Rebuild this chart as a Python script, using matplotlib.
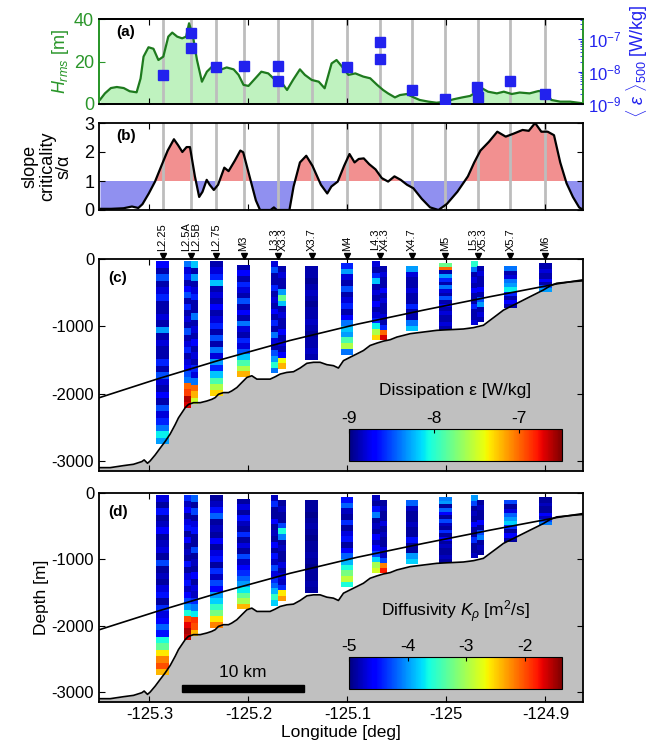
import numpy as np
import matplotlib
matplotlib.use("Agg")
import matplotlib.pyplot as plt
from matplotlib import patches, transforms

plt.rcParams['font.family'] = ['Liberation Sans', 'DejaVu Sans']
plt.rcParams['mathtext.fontset'] = 'custom'
plt.rcParams['mathtext.rm'] = 'Liberation Sans'
plt.rcParams['mathtext.it'] = 'Liberation Sans:italic'
plt.rcParams['axes.linewidth'] = 1.3
plt.rcParams['axes.unicode_minus'] = False

# ---------------- data ----------------
# (a) rms topographic height along the section
hrms_lon = [-125.350, -125.345, -125.339, -125.333, -125.326, -125.320, -125.313, -125.309,
            -125.306, -125.301, -125.296, -125.291, -125.286, -125.281, -125.277, -125.272,
            -125.267, -125.263, -125.260, -125.256, -125.252, -125.247, -125.242, -125.235,
            -125.229, -125.222, -125.215, -125.210, -125.205, -125.200, -125.193, -125.187,
            -125.180, -125.173, -125.166, -125.161, -125.155, -125.148, -125.143, -125.136,
            -125.129, -125.123, -125.116, -125.111, -125.106, -125.099, -125.092, -125.084,
            -125.077, -125.070, -125.064, -125.059, -125.052, -125.047, -125.040, -125.033,
            -125.027, -125.018, -125.010, -125.001, -124.993, -124.984, -124.976, -124.964,
            -124.958, -124.949, -124.942, -124.934, -124.926, -124.916, -124.907, -124.900,
            -124.894, -124.885, -124.875, -124.862]
hrms = [2, 5, 7.5, 8, 7.5, 6, 5.5, 12,
        22.3, 26.7, 26, 20.7, 22.3, 31.7, 33.6, 31.7,
        30.9, 31.7, 38, 31.7, 20.7, 10.5, 15.2, 18.4,
        16, 17.2, 16.3, 13.7, 9, 8.5, 12.1, 15.2,
        14.4, 11.3, 9.8, 6.6, 11.3, 16.3, 13.7, 11.3,
        10.5, 7.4, 19.1, 20.7, 17.9, 13.7, 14.4, 12.9,
        12.1, 9, 6.6, 5, 3.1, 4.2, 4.7, 3.1,
        1.9, 1.1, 0.6, 1.1, 2.2, 3.1, 3.8, 7.4,
        5.8, 5, 5.8, 4.7, 5.4, 5, 6.1, 5.8,
        1.9, 1.1, 1.1, 0.3]

# (a) depth-mean dissipation below 500 m, per station group
eps500_lon = [-125.2868, -125.2582, -125.2582, -125.2323, -125.2050, -125.1697, -125.1697,
              -125.1003, -125.0675, -125.0675, -125.0347, -125.0010, -124.9690, -124.9680,
              -124.9353, -124.9000]
eps500 = [7.9e-9, 1.6e-7, 5.4e-8, 1.34e-8, 1.5e-8, 1.5e-8, 5.2e-9,
          1.34e-8, 8.2e-8, 2.4e-8, 2.8e-9, 1.44e-9, 3.3e-9, 1.6e-9,
          5.1e-9, 2.1e-9]

# (b) slope criticality
slope_lon = [-125.3495, -125.3389, -125.3262, -125.3177, -125.3113, -125.3071, -125.3007, -125.2944,
             -125.2880, -125.2816, -125.2753, -125.2710, -125.2668, -125.2625, -125.2591, -125.2541,
             -125.2498, -125.2464, -125.2422, -125.2392, -125.2350, -125.2307, -125.2244, -125.2201,
             -125.2138, -125.2082, -125.2053, -125.1989, -125.1925, -125.1883, -125.1777, -125.1743,
             -125.1713, -125.1586, -125.1544, -125.1480, -125.1416, -125.1353, -125.1268, -125.1204,
             -125.1162, -125.1098, -125.1034, -125.0979, -125.0928, -125.0886, -125.0835, -125.0780,
             -125.0716, -125.0653, -125.0589, -125.0525, -125.0462, -125.0398, -125.0334, -125.0250,
             -125.0165, -125.0080, -124.9995, -124.9889, -124.9783, -124.9719, -124.9656, -124.9571,
             -124.9486, -124.9401, -124.9316, -124.9231, -124.9168, -124.9104, -124.9041, -124.8977,
             -124.8913, -124.8850, -124.8786, -124.8722, -124.8659, -124.8616]
slope = [0.04, 0.04, 0.06, 0.12, 0.07, 0.2, 0.57, 0.98,
         1.52, 2.05, 2.44, 2.23, 2.0, 2.17, 2.17, 1.16,
         0.45, 0.63, 1.04, 0.87, 0.69, 0.87, 1.46, 1.34,
         1.7, 2.05, 1.99, 1.16, 0.33, 0.0, 0.0, 0.09,
         0.0, 0.0, 0.81, 1.64, 1.87, 1.52, 0.87, 0.57,
         0.81, 0.98, 1.52, 1.93, 1.64, 1.76, 1.78, 1.58,
         1.4, 1.10, 0.98, 1.16, 1.04, 0.87, 0.75, 0.39,
         0.09, 0.0, 0.21, 0.63, 1.16, 1.64, 2.05, 2.35,
         2.7, 2.53, 2.64, 2.76, 2.73, 3.0, 2.7, 2.7,
         2.58, 1.64, 0.92, 0.45, 0.09, 0.0]

# (c,d) bathymetry
bathy_lon = [-125.3505, -125.3397, -125.3262, -125.3161, -125.3077, -125.3054, -125.3020, -125.2993,
             -125.2942, -125.2892, -125.2841, -125.2791, -125.2740, -125.2707, -125.2673, -125.2639,
             -125.2606, -125.2555, -125.2488, -125.2420, -125.2370, -125.2336, -125.2303, -125.2252,
             -125.2202, -125.2168, -125.2117, -125.2067, -125.2016, -125.1966, -125.1915, -125.1848,
             -125.1781, -125.1730, -125.1680, -125.1612, -125.1545, -125.1478, -125.1410, -125.1343,
             -125.1276, -125.1208, -125.1141, -125.1091, -125.1040, -125.0973, -125.0905, -125.0838,
             -125.0771, -125.0703, -125.0636, -125.0569, -125.0501, -125.0434, -125.0367, -125.0232,
             -125.0097, -124.9963, -124.9828, -124.9727, -124.9626, -124.9559, -124.9491, -124.9424,
             -124.9357, -124.9289, -124.9222, -124.9155, -124.9087, -124.9020, -124.8953, -124.8885,
             -124.8818, -124.8717, -124.8623]
bathy = [-3100, -3100, -3070, -3050, -3010, -2985, -3035, -3000,
         -2910, -2810, -2710, -2600, -2460, -2360, -2285, -2210,
         -2160, -2135, -2135, -2110, -2085, -2060, -2010, -1985,
         -1985, -1960, -1910, -1835, -1760, -1735, -1785, -1785,
         -1785, -1750, -1710, -1685, -1675, -1620, -1550, -1535,
         -1535, -1570, -1585, -1620, -1510, -1460, -1410, -1360,
         -1285, -1250, -1220, -1200, -1160, -1135, -1110, -1085,
         -1060, -1050, -1040, -1020, -985, -910, -835, -760,
         -710, -660, -610, -560, -510, -460, -400, -360,
         -350, -335, -325]

# (c,d) critical-slope reference line
crit_lon = [-125.3505, -125.2926, -125.2252, -125.1579, -125.0905, -125.0232, -124.9559, -124.8885, -124.8623]
crit_depth = [-2060, -1785, -1485, -1210, -970, -760, -560, -370, -310]

# station groups (labels above panel c)
group_labels = ['L2.25', 'L2.5A\nL2.5B', 'L2.75', 'M3', 'L3.3\nX3.3', 'X3.7', 'M4',
                'L4.3\nX4.3', 'X4.7', 'M5', 'L5.3\nX5.3', 'X5.7', 'M6']
group_lon = [-125.2868, -125.2582, -125.2323, -125.2050, -125.1697, -125.1363, -125.1003,
             -125.0675, -125.0347, -125.0010, -124.9685, -124.9353, -124.9000]

# individual profiles
station_names = ['L2.25', 'L2.5A', 'L2.5B', 'L2.75', 'M3', 'L3.3', 'X3.3', 'X3.7', 'M4',
                 'L4.3', 'X4.3', 'X4.7', 'M5', 'L5.3', 'X5.3', 'X5.7', 'M6']
station_lon = [-125.2868, -125.2619, -125.2545, -125.2323, -125.2050, -125.1734, -125.1660,
               -125.1363, -125.1003, -125.0710, -125.0639, -125.0347, -125.0010, -124.9717,
               -124.9653, -124.9353, -124.9000]
station_top = [-35, -35, -35, -35, -85, -35, -110, -110, -60, -35, -110, -110, -60, -35, -110, -110, -60]
station_bottom = [-2750, -2210, -2160, -2035, -1750, -1700, -1635, -1500, -1420, -1210, -1210,
                  -1070, -1050, -985, -935, -735, -485]
paired = ['L2.5A', 'L2.5B', 'L3.3', 'X3.3', 'L4.3', 'X4.3', 'L5.3', 'X5.3']

# log10 dissipation, top to bottom
eps_L2_25 = [-8.7, -8.9, -8.5, -8.9, -8.8, -8.6, -8.9, -8.9, -8.8, -8.9, -8.3, -8.9, -8.8, -8.9,
             -8.9, -8.6, -8.9, -8.5, -8.8, -8.9, -8.7, -8.9, -8.5, -8.8, -8.6, -8.4, -8.1, -8.3]
eps_L2_5A = [-8.4, -8.8, -8.6, -8.9, -8.7, -8.5, -8.9, -8.6, -8.9, -8.8, -8.9, -8.5, -8.9, -8.8,
             -8.6, -8.9, -8.8, -8.7, -8.5, -8.4, -7.0, -6.9, -6.6, -6.7]
eps_L2_5B = [-8.2, -8.9, -8.3, -8.9, -8.8, -8.6, -8.9, -8.9, -8.4, -8.9, -8.8, -8.9, -8.7, -8.9,
             -8.8, -8.9, -8.6, -8.8, -8.4, -7.0, -7.2, -7.5]
eps_L2_75 = [-8.9, -8.8, -8.6, -8.2, -8.9, -8.8, -8.9, -8.7, -8.9, -8.8, -8.6, -8.9, -8.5, -8.9,
             -8.4, -8.8, -8.3, -8.6, -8.2, -7.9, -7.6, -7.3]
eps_M3 = [-8.9, -8.7, -8.9, -8.6, -8.8, -8.9, -8.5, -8.9, -8.7, -8.9, -8.4, -8.8, -8.9, -8.6,
          -8.8, -8.5, -8.2, -7.9, -7.6, -7.2]
eps_L3_3 = [-8.8, -8.5, -8.9, -8.9, -8.6, -8.9, -8.8, -8.9, -8.7, -8.9, -8.6, -8.9, -8.4, -8.8,
            -8.9, -8.5, -8.3, -8.0, -8.4]
eps_X3_3 = [-8.9, -8.8, -8.9, -8.9, -8.3, -7.8, -8.2, -8.9, -8.8, -8.9, -8.9, -8.7, -8.9, -8.8,
            -8.9, -8.7, -7.4, -7.2]
eps_X3_7 = [-8.9, -8.9, -8.95, -8.9, -8.85, -8.9, -8.95, -8.9, -8.9, -8.85, -8.9, -8.95, -8.9,
            -8.9, -8.85, -8.9]
eps_M4 = [-8.6, -8.3, -8.8, -8.9, -8.5, -8.9, -8.8, -8.6, -8.9, -8.7, -8.4, -8.2, -8.3, -7.9,
          -7.6, -8.4]
eps_L4_3 = [-8.8, -8.9, -8.6, -8.2, -8.9, -8.8, -8.9, -8.7, -8.9, -8.8, -8.6, -8.1, -7.6, -7.3]
eps_X4_3 = [-8.9, -8.8, -8.9, -8.9, -8.7, -8.9, -8.8, -8.9, -8.9, -8.8, -8.9, -8.6, -7.0, -6.7]
eps_X4_7 = [-8.3, -8.8, -8.9, -8.9, -8.8, -8.9, -8.9, -8.6, -8.9, -8.9, -8.4, -8.2]
eps_M5 = [-7.8, -7.0, -8.9, -8.3, -8.6, -8.9, -8.4, -8.8, -8.9, -8.5, -8.9, -8.7, -8.9, -8.8,
          -8.9, -8.9, -8.8, -8.9]
eps_L5_3 = [-8.0, -8.4, -8.9, -8.8, -8.9, -8.7, -8.9, -8.9, -8.6, -8.9, -8.9, -8.8]
eps_X5_3 = [-8.9, -8.8, -8.9, -8.9, -8.7, -8.9, -8.5, -8.3, -8.9, -8.8, -8.9]
eps_X5_7 = [-8.4, -8.9, -8.8, -8.4, -8.3, -8.1, -8.6, -8.9, -8.7, -8.9]
eps_M6 = [-8.9, -8.9, -8.8, -8.9, -8.9, -8.7, -8.9, -8.5, -8.3]

# log10 diffusivity, top to bottom
k_L2_25 = [-4.7, -4.9, -4.5, -4.9, -4.8, -4.6, -4.9, -4.8, -4.7, -4.9, -4.3, -4.9, -4.8, -4.9,
           -4.7, -4.5, -4.9, -4.4, -4.7, -4.6, -4.2, -4.5, -3.6, -3.3, -2.6, -2.2, -2.0, -2.4]
k_L2_5A = [-4.4, -4.8, -4.6, -4.9, -4.7, -4.5, -4.9, -4.6, -4.9, -4.8, -4.9, -4.5, -4.9, -4.7,
           -4.5, -4.8, -4.6, -4.3, -4.0, -3.6, -2.0, -1.7, -1.5, -1.6]
k_L2_5B = [-4.2, -4.9, -4.3, -4.9, -4.7, -4.5, -4.9, -4.9, -4.3, -4.9, -4.8, -4.9, -4.6, -4.9,
           -4.7, -4.8, -4.4, -4.1, -3.7, -1.9, -2.0, -2.4]
k_L2_75 = [-4.9, -4.8, -4.5, -4.2, -4.9, -4.8, -4.9, -4.6, -4.9, -4.7, -4.5, -4.9, -4.4, -4.8,
           -4.3, -4.6, -4.0, -3.8, -3.5, -3.2, -2.6, -2.2]
k_M3 = [-4.9, -4.7, -4.9, -4.5, -4.8, -4.9, -4.4, -4.9, -4.7, -4.9, -4.3, -4.8, -4.6, -4.4,
        -4.2, -4.0, -3.7, -3.3, -3.0, -2.4]
k_L3_3 = [-4.8, -4.4, -4.9, -4.9, -4.6, -4.9, -4.8, -4.9, -4.6, -4.9, -4.5, -4.8, -4.3, -4.7,
          -4.4, -4.2, -3.9, -3.5, -3.8]
k_X3_3 = [-4.9, -4.8, -4.9, -4.9, -4.3, -3.6, -4.1, -4.9, -4.8, -4.9, -4.9, -4.7, -4.9, -4.7,
          -4.8, -4.4, -2.6, -2.3]
k_X3_7 = [-4.9, -4.9, -4.95, -4.9, -4.85, -4.9, -4.95, -4.9, -4.9, -4.85, -4.9, -4.95, -4.9,
          -4.9, -4.85, -4.9]
k_M4 = [-4.5, -4.2, -4.8, -4.9, -4.4, -4.9, -4.7, -4.5, -4.9, -4.6, -4.2, -3.9, -3.6, -3.2,
        -2.9, -3.6]
k_L4_3 = [-4.8, -4.9, -4.5, -4.1, -4.9, -4.8, -4.9, -4.6, -4.8, -4.6, -4.3, -3.8, -3.0, -2.8]
k_X4_3 = [-4.9, -4.8, -4.9, -4.9, -4.7, -4.9, -4.8, -4.9, -4.9, -4.7, -4.8, -4.3, -2.2, -1.8]
k_X4_7 = [-4.2, -4.8, -4.9, -4.9, -4.8, -4.9, -4.9, -4.5, -4.9, -4.9, -4.0, -3.8]
k_M5 = [-4.1, -4.0, -4.9, -4.2, -4.6, -4.9, -4.3, -4.8, -4.9, -4.4, -4.9, -4.6, -4.9, -4.8,
        -4.9, -4.9, -4.8, -4.9]
k_L5_3 = [-4.0, -4.3, -4.9, -4.8, -4.9, -4.6, -4.9, -4.9, -4.4, -4.9, -4.9, -4.8]
k_X5_3 = [-4.9, -4.8, -4.9, -4.9, -4.6, -4.9, -4.3, -4.1, -4.9, -4.8, -4.9]
k_X5_7 = [-4.3, -4.9, -4.7, -4.2, -4.0, -3.8, -4.4, -4.9, -4.6, -4.9]
k_M6 = [-4.9, -4.9, -4.8, -4.9, -4.9, -4.6, -4.8, -4.3, -4.1]

eps_profiles = [eps_L2_25, eps_L2_5A, eps_L2_5B, eps_L2_75, eps_M3, eps_L3_3, eps_X3_3, eps_X3_7,
                eps_M4, eps_L4_3, eps_X4_3, eps_X4_7, eps_M5, eps_L5_3, eps_X5_3, eps_X5_7, eps_M6]
k_profiles = [k_L2_25, k_L2_5A, k_L2_5B, k_L2_75, k_M3, k_L3_3, k_X3_3, k_X3_7,
              k_M4, k_L4_3, k_X4_3, k_X4_7, k_M5, k_L5_3, k_X5_3, k_X5_7, k_M6]

xticks = [-125.3, -125.2, -125.1, -125.0, -124.9]
xticklabels = ['-125.3', '-125.2', '-125.1', '-125', '-124.9']

# ---------------- style ----------------
XLIM = (-125.351, -124.862)
ZLIM = (-3150, 0)
GREEN = '#2a962a'
BLUE = '#2222ee'
GRID_GRAY = '#bdbdbd'
W = 662 / 100.0
H = 753 / 100.0


def frame(ax):
    ax.set_xlim(XLIM)
    ax.set_xticks(xticks)
    ax.tick_params(direction='in', top=True, right=True, length=4, labelsize=12)
    ax.set_xticklabels([])


def station_lines(ax):
    for lon in group_lon:
        ax.axvline(lon, color=GRID_GRAY, lw=2, zorder=1.5)


def draw_section(ax, profiles, vmin, vmax):
    ax.fill_between(bathy_lon, bathy, ZLIM[0], color='#c0c0c0', lw=0, zorder=1)
    mesh = None
    for name, lon, top, bot, vals in zip(station_names, station_lon, station_top,
                                         station_bottom, profiles):
        width = 0.0074 if name in paired else 0.0125
        xe = [lon - width / 2, lon + width / 2]
        ye = np.linspace(top, bot, len(vals) + 1)
        mesh = ax.pcolormesh(xe, ye, np.array(vals).reshape(-1, 1), cmap='jet',
                             vmin=vmin, vmax=vmax, zorder=2)
    ax.plot(bathy_lon, bathy, color='k', lw=1.2, zorder=3)
    ax.plot(crit_lon, crit_depth, color='k', lw=1.2, zorder=3)
    ax.set_ylim(ZLIM)
    ax.set_yticks([0, -1000, -2000, -3000])
    return mesh


def inset_colorbar(fig, ax, mesh, rect, ticks, label, label_y):
    cax = ax.inset_axes(rect)
    cb = fig.colorbar(mesh, cax=cax, orientation='horizontal')
    cb.set_ticks(ticks)
    cb.set_ticklabels([str(t) for t in ticks])
    cax.xaxis.set_ticks_position('top')
    cax.tick_params(labelsize=12.5, length=3, direction='in', pad=2)
    cb.outline.set_linewidth(0.8)
    ax.text(rect[0] + rect[2] / 2, label_y, label, transform=ax.transAxes,
            ha='center', va='center', fontsize=12.5, zorder=5)


fig = plt.figure(figsize=(W, H), dpi=100)
left = 99 / 662
width = 484 / 662
ax_a = fig.add_axes([left, 1 - 104 / 753, width, 85 / 753])
ax_b = fig.add_axes([left, 1 - 210 / 753, width, 87 / 753])
ax_c = fig.add_axes([left, 1 - 471 / 753, width, 212 / 753])
ax_d = fig.add_axes([left, 1 - 702 / 753, width, 209 / 753])

# ---- (a) ----
frame(ax_a)
ax_a.fill_between(hrms_lon, hrms, 0, color='#bff2bf', lw=0, zorder=1)
station_lines(ax_a)
ax_a.plot(hrms_lon, hrms, color='#1e7a1e', lw=1.6, zorder=2)
ax_a.set_ylim(0, 40)
ax_a.set_yticks([0, 20, 40])
ax_a.tick_params(axis='y', colors=GREEN, labelsize=13, right=False)
ax_a.spines['left'].set_color(GREEN)
ax_a.spines['right'].set_color(GREEN)
ax_a.set_ylabel('$H_{rms}$ [m]', color=GREEN, fontsize=13, labelpad=2)
ax_a.text(0.035, 0.80, '(a)', transform=ax_a.transAxes, fontsize=11, fontweight='bold')

ax_a2 = ax_a.twinx()
ax_a2.set_yscale('log')
ax_a2.plot(eps500_lon, eps500, 's', color=BLUE, ms=6.5, zorder=4)
ax_a2.set_ylim(1e-9, 4.2e-7)
ax_a2.set_yticks([1e-9, 1e-8, 1e-7])
ax_a2.tick_params(axis='y', which='both', direction='in', colors=BLUE, labelsize=12)
ax_a2.spines['right'].set_color(GREEN)
ax_a2.spines['left'].set_color(GREEN)
ax_a2.set_ylabel(r'$\langle\ \varepsilon\ \rangle_{500}$ [W/kg]', color=BLUE, fontsize=13,
                 labelpad=2)

# ---- (b) ----
frame(ax_b)
ax_b.fill_between(slope_lon, slope, 1, where=np.array(slope) >= 1, interpolate=True,
                  color='#f29090', lw=0, zorder=1)
ax_b.fill_between(slope_lon, slope, 1, where=np.array(slope) <= 1, interpolate=True,
                  color='#9090f0', lw=0, zorder=1)
station_lines(ax_b)
ax_b.plot(slope_lon, slope, color='k', lw=1.6, zorder=3)
ax_b.set_ylim(0, 3)
ax_b.set_yticks([0, 1, 2, 3])
ax_b.tick_params(axis='y', labelsize=13)
ax_b.set_ylabel('slope\ncriticality\ns/\u03b1', fontsize=13, linespacing=1.0, labelpad=8)
ax_b.text(0.035, 0.80, '(b)', transform=ax_b.transAxes, fontsize=11, fontweight='bold')

# ---- (c) ----
frame(ax_c)
mesh_c = draw_section(ax_c, eps_profiles, -9, -6.5)
ax_c.text(0.02, 0.89, '(c)', transform=ax_c.transAxes, fontsize=11, fontweight='bold')
inset_colorbar(fig, ax_c, mesh_c, [0.517, 0.047, 0.439, 0.151], [-9, -8, -7],
               'Dissipation \u03b5 [W/kg]', 0.382)
mark = ax_c.transData + transforms.ScaledTranslation(0, 2.5 / 72, fig.dpi_scale_trans)
for lab, lon in zip(group_labels, group_lon):
    ax_c.plot([lon], [0], marker='v', color='k', ms=4.5, transform=mark, clip_on=False, zorder=6)
    ax_c.annotate(lab, xy=(lon, 0), xytext=(0, 6), textcoords='offset points', rotation=90,
                  ha='center', va='bottom', fontsize=8, linespacing=0.95,
                  annotation_clip=False)

# ---- (d) ----
frame(ax_d)
mesh_d = draw_section(ax_d, k_profiles, -5, -1.37)
ax_d.text(0.02, 0.89, '(d)', transform=ax_d.transAxes, fontsize=11, fontweight='bold')
inset_colorbar(fig, ax_d, mesh_d, [0.517, 0.062, 0.439, 0.153], [-5, -4, -3, -2],
               'Diffusivity $K_\\rho$ [m$^2$/s]', 0.43)
ax_d.add_patch(patches.Rectangle((-125.267, -3001), 0.123, 105, color='k', zorder=5))
ax_d.text(-125.2055, -2700, '10 km', ha='center', va='center', fontsize=12.5, zorder=5)
ax_d.set_xticklabels(xticklabels)
ax_d.set_xlabel('Longitude [deg]', fontsize=12.5, labelpad=2)
ax_d.set_ylabel('Depth [m]', fontsize=12.5, labelpad=2)

fig.savefig('out.png', dpi=100)
